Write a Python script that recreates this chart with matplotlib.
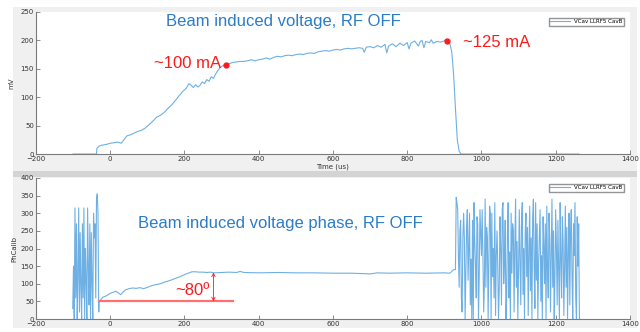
import matplotlib.pyplot as plt
from matplotlib.patches import Rectangle

# top panel: beam induced voltage (mV) vs time (us)
t_volt = [-100, -37, -36, -30, -20, -10, 0, 10, 20, 30, 38, 45, 55, 65, 75, 85, 95,
          105, 115, 125, 135, 145, 155, 165, 175, 185, 195, 205, 212, 218, 224, 230,
          236, 242, 248, 254, 260, 266, 272, 278, 284, 290, 296, 302, 310, 320, 330,
          340, 350, 360, 370, 380, 390, 400, 410, 420, 430, 440, 450, 460, 470, 480,
          490, 500, 510, 520, 530, 540, 550, 560, 570, 580, 590, 600, 610, 620, 630,
          640, 650, 660, 670, 680, 684, 690, 700, 710, 720, 730, 740, 745, 750, 760,
          770, 780, 790, 800, 805, 810, 820, 830, 835, 840, 845, 850, 860, 865, 870,
          880, 890, 900, 905, 910, 915, 920, 925, 930, 935, 940, 945, 1262]
v_volt = [0, 0, 10, 14, 16, 17, 19, 20, 21, 19, 26, 32, 34, 37, 40, 42, 46,
          52, 58, 65, 68, 73, 80, 86, 94, 102, 110, 116, 124, 121, 117, 122,
          118, 121, 127, 124, 131, 128, 136, 133, 141, 147, 152, 155, 157, 159, 161,
          162, 163, 163, 164, 166, 164, 166, 167, 169, 167, 170, 172, 171, 173, 174,
          173, 175, 176, 175, 177, 178, 177, 180, 181, 182, 181, 183, 184, 183, 185,
          186, 185, 186, 187, 186, 179, 188, 189, 187, 191, 188, 193, 178, 190, 194,
          189, 195, 191, 196, 185, 195, 199, 190, 198, 200, 187, 198, 196, 201, 195,
          198, 197, 199, 202, 199, 194, 180, 140, 80, 25, 5, 0, 0]
dots_t = [312, 908]
dots_v = [157, 199]
dots_text = ["~100 mA", "~125 mA"]

# bottom panel: phase (PhCalib)
t_ph_noise1 = [-101, -99, -97, -95, -93, -91, -89, -87, -85, -83, -81, -79, -77, -75,
               -73, -71, -69, -67, -65, -63, -61, -59, -57, -55, -53, -51, -49, -47,
               -45, -43, -41, -39, -37, -35, -33, -31]
v_ph_noise1 = [30, 150, 0, 315, 60, 270, 0, 120, 315, 20, 245, 90, 0, 270,
               60, 315, 0, 200, 110, 0, 315, 150, 40, 270, 0, 245, 100, 0,
               300, 230, 270, 60, 340, 355, 300, 20]
t_ph_beam = [-30, -25, -20, -10, 0, 8, 15, 22, 28, 35, 42, 50, 60, 70, 80, 90, 100,
             110, 120, 130, 140, 150, 160, 170, 180, 190, 200, 210, 220, 230, 240,
             250, 260, 270, 280, 300, 320, 340, 350, 360, 400, 450, 500, 550, 600,
             650, 700, 720, 750, 800, 850, 900, 915, 925]
v_ph_beam = [50, 55, 62, 66, 73, 76, 79, 74, 69, 77, 83, 86, 88, 87, 89, 86, 90,
             94, 97, 99, 102, 106, 109, 113, 117, 121, 126, 130, 134, 134, 133,
             133, 132, 133, 131, 132, 133, 132, 135, 132, 131, 132, 131, 131, 130,
             130, 128, 131, 130, 131, 130, 131, 130, 140]
t_ph_noise2 = [930, 932, 934, 936, 938, 940, 942, 944, 946, 948, 950, 952,
               954, 956, 958, 960, 962, 964, 966, 968, 970, 972, 974, 976,
               978, 980, 982, 984, 986, 988, 990, 992, 994, 996, 998, 1000,
               1002, 1004, 1006, 1008, 1010, 1012, 1014, 1016, 1018, 1020, 1022, 1024,
               1026, 1028, 1030, 1032, 1034, 1036, 1038, 1040, 1042, 1044, 1046, 1048,
               1050, 1052, 1054, 1056, 1058, 1060, 1062, 1064, 1066, 1068, 1070, 1072,
               1074, 1076, 1078, 1080, 1082, 1084, 1086, 1088, 1090, 1092, 1094, 1096,
               1098, 1100, 1102, 1104, 1106, 1108, 1110, 1112, 1114, 1116, 1118, 1120,
               1122, 1124, 1126, 1128, 1130, 1132, 1134, 1136, 1138, 1140, 1142, 1144,
               1146, 1148, 1150, 1152, 1154, 1156, 1158, 1160, 1162, 1164, 1166, 1168,
               1170, 1172, 1174, 1176, 1178, 1180, 1182, 1184, 1186, 1188, 1190, 1192,
               1194, 1196, 1198, 1200, 1202, 1204, 1206, 1208, 1210, 1212, 1214, 1216,
               1218, 1220, 1222, 1224, 1226, 1228, 1230, 1232, 1234, 1236, 1238, 1240,
               1242, 1244, 1246, 1248, 1250, 1252, 1254, 1256, 1258, 1260, 1262, 1264]
v_ph_noise2 = [140, 345, 330, 310, 180, 90, 250, 280, 60, 20, 230, 300,
               230, 0, 140, 260, 310, 110, 200, 300, 40, 170, 0, 280,
               0, 330, 220, 150, 60, 290, 270, 0, 120, 310, 240, 180,
               310, 180, 20, 100, 340, 90, 260, 230, 0, 150, 320, 300,
               0, 300, 120, 200, 60, 330, 10, 180, 250, 150, 0, 90,
               290, 200, 40, 310, 330, 100, 160, 280, 0, 70, 240, 330,
               60, 190, 0, 300, 130, 270, 250, 20, 210, 340, 90, 220,
               0, 140, 310, 160, 40, 280, 330, 70, 200, 0, 250, 300,
               120, 260, 10, 190, 320, 80, 230, 0, 290, 340, 150, 30,
               330, 110, 270, 0, 160, 240, 310, 50, 180, 0, 290, 210,
               100, 270, 0, 320, 140, 60, 300, 230, 20, 180, 340, 90,
               250, 0, 120, 310, 200, 40, 280, 130, 0, 330, 170, 60,
               290, 220, 10, 150, 320, 90, 260, 0, 190, 300, 40, 240,
               310, 120, 0, 270, 180, 330, 60, 0, 290, 150, 270, 0]
ref_phase = 50
ref_t = [-30, 332]
arrow_t = 278
arrow_top = 132

line_c = '#3d96dc'
red = '#ff1a1a'
title_c = '#2b7cc8'
grey = '#7a7a7a'

fig = plt.figure(figsize=(6.4, 3.32), dpi=100)
fig.patch.set_facecolor('white')
fig.add_artist(Rectangle((0.020, 0.482), 0.975, 0.497, transform=fig.transFigure,
                         facecolor='#f0f0f0', edgecolor='none', zorder=0))
fig.add_artist(Rectangle((0.020, 0.012), 0.975, 0.461, transform=fig.transFigure,
                         facecolor='#f0f0f0', edgecolor='none', zorder=0))
fig.add_artist(Rectangle((0.020, 0.468), 0.975, 0.016, transform=fig.transFigure,
                         facecolor='#d4d4d4', edgecolor='none', zorder=0))

ax1 = fig.add_axes([0.05625, 0.536, 0.928, 0.428])
ax2 = fig.add_axes([0.05625, 0.039, 0.928, 0.425])

for ax in (ax1, ax2):
    ax.set_facecolor('white')
    ax.spines['top'].set_visible(False)
    ax.spines['right'].set_visible(False)
    ax.spines['left'].set_color(grey)
    ax.spines['bottom'].set_color(grey)
    ax.tick_params(direction='in', length=3, width=0.6, labelsize=5,
                   colors=grey, labelcolor='#333333', pad=1.5)
    ax.set_xlim(-200, 1400)
    ax.set_xticks(range(-200, 1401, 200))

# top
ax1.plot(t_volt, v_volt, color=line_c, lw=0.8, alpha=0.75, label='VCav LLRF5 CavB')
ax1.set_ylim(0, 250)
ax1.set_yticks(range(0, 251, 50))
ax1.set_xlabel('Time (us)', fontsize=5, labelpad=1, color='#333333')
ax1.set_ylabel('mV', fontsize=5, labelpad=4, color='#333333')
ax1.plot(dots_t, dots_v, 'o', color=red, ms=3.5)
ax1.text(dots_t[0] - 14, dots_v[0] + 2, dots_text[0], color=red, fontsize=12,
         family='Liberation Sans', ha='right', va='center')
ax1.text(dots_t[1] + 42, dots_v[1] - 3, dots_text[1], color=red, fontsize=12,
         family='Liberation Sans', ha='left', va='center')
ax1.text(0.416, 0.93, 'Beam induced voltage, RF OFF', transform=ax1.transAxes,
         color=title_c, fontsize=12, family='Liberation Sans', ha='center', va='center')
ax1.legend(loc='upper right', fontsize=4, handlelength=3.5, frameon=True, fancybox=False,
           edgecolor=grey, borderpad=0.3, bbox_to_anchor=(0.995, 0.98))

# bottom
ax2.plot(t_ph_noise1 + t_ph_beam + t_ph_noise2, v_ph_noise1 + v_ph_beam + v_ph_noise2,
         color=line_c, lw=0.8, alpha=0.75, label='VCav LLRF5 CavB')
ax2.set_ylim(0, 400)
ax2.set_yticks(range(0, 401, 50))
ax2.set_ylabel('PhCalib', fontsize=5, labelpad=2, color='#333333')
ax2.plot(ref_t, [ref_phase, ref_phase], color='#ff7070', lw=1.6)
ax2.annotate('', xy=(arrow_t, arrow_top), xytext=(arrow_t, ref_phase),
             arrowprops=dict(arrowstyle='<->', color=red, lw=0.6,
                             shrinkA=0, shrinkB=0, mutation_scale=6))
ax2.text(arrow_t - 10, 80, '~80º', color=red, fontsize=12, family='Liberation Sans',
         ha='right', va='center')
ax2.text(0.412, 0.674, 'Beam induced voltage phase, RF OFF', transform=ax2.transAxes,
         color=title_c, fontsize=12, family='Liberation Sans', ha='center', va='center')
ax2.legend(loc='upper right', fontsize=4, handlelength=3.5, frameon=True, fancybox=False,
           edgecolor=grey, borderpad=0.3, bbox_to_anchor=(0.995, 0.98))

fig.savefig('out.png', dpi=100)
plt.close(fig)
